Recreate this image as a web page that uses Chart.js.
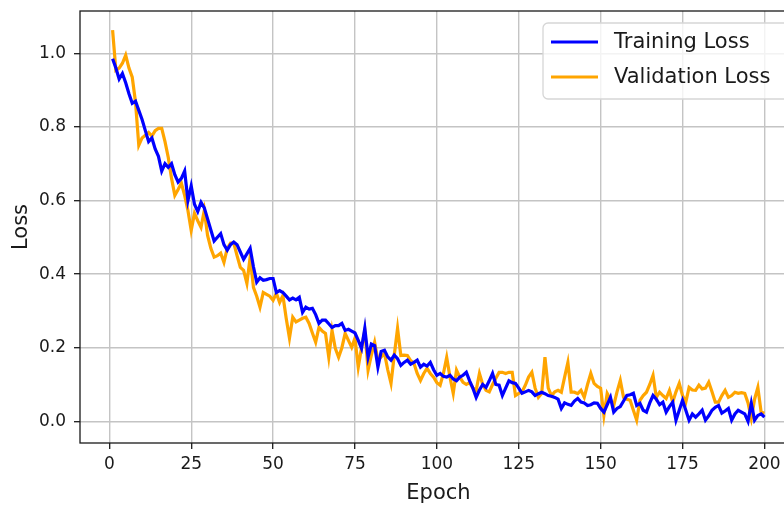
<!DOCTYPE html>
<html>
<head>
<meta charset="utf-8">
<script src="https://cdn.jsdelivr.net/npm/chart.js@4/dist/chart.umd.min.js"></script>
<style>
  html, body { margin: 0; padding: 0; background: #fff; overflow: hidden; }
  canvas { display: block; }
</style>
</head>
<body>
<canvas id="lossChart" width="810" height="508"></canvas>
<script>
// epochs 1..200
const epochs = Array.from({ length: 200 }, (_, i) => i + 1);

const trainLoss = [
  0.985, 0.96, 0.93, 0.945, 0.92, 0.89, 0.864, 0.87, 0.845, 0.82,
  0.79, 0.76, 0.77, 0.74, 0.72, 0.68, 0.70, 0.69, 0.70, 0.67,
  0.65, 0.66, 0.68, 0.60, 0.64, 0.59, 0.57, 0.595, 0.58, 0.55,
  0.52, 0.49, 0.50, 0.51, 0.48, 0.465, 0.48, 0.487, 0.48, 0.46,
  0.44, 0.455, 0.47, 0.42, 0.378, 0.39, 0.383, 0.385, 0.388, 0.388,
  0.35, 0.355, 0.35, 0.34, 0.33, 0.335, 0.33, 0.337, 0.296, 0.31,
  0.305, 0.307, 0.29, 0.266, 0.275, 0.275, 0.265, 0.255, 0.26, 0.26,
  0.266, 0.247, 0.25, 0.245, 0.24, 0.22, 0.198, 0.253, 0.174, 0.21,
  0.206, 0.147, 0.19, 0.193, 0.175, 0.166, 0.18, 0.17, 0.152, 0.16,
  0.166, 0.155, 0.16, 0.166, 0.147, 0.155, 0.15, 0.16, 0.14, 0.125,
  0.13, 0.122, 0.12, 0.125, 0.115, 0.11, 0.12, 0.125, 0.133, 0.11,
  0.09, 0.065, 0.085, 0.10, 0.092, 0.11, 0.13, 0.10, 0.098, 0.07,
  0.09, 0.11, 0.105, 0.103, 0.09, 0.076, 0.08, 0.084, 0.08, 0.07,
  0.075, 0.079, 0.075, 0.07, 0.068, 0.065, 0.06, 0.035, 0.05, 0.046,
  0.043, 0.055, 0.062, 0.052, 0.05, 0.043, 0.045, 0.05, 0.049, 0.035,
  0.025, 0.045, 0.065, 0.025, 0.035, 0.04, 0.055, 0.07, 0.072, 0.076,
  0.043, 0.049, 0.03, 0.025, 0.05, 0.07, 0.06, 0.045, 0.052, 0.025,
  0.04, 0.052, 0.003, 0.03, 0.057, 0.03, 0.003, 0.02, 0.011, 0.02,
  0.03, 0.003, 0.015, 0.03, 0.038, 0.043, 0.022, 0.028, 0.035, 0.003,
  0.02, 0.03, 0.025, 0.02, 0.0, 0.049, 0.003, 0.016, 0.02, 0.011
];

const valLoss = [
  1.063, 0.954, 0.96, 0.973, 0.995, 0.96, 0.935, 0.867, 0.75, 0.77,
  0.777, 0.785, 0.775, 0.79, 0.796, 0.796, 0.76, 0.717, 0.66, 0.614,
  0.63, 0.647, 0.614, 0.573, 0.519, 0.565, 0.545, 0.527, 0.573, 0.505,
  0.47, 0.446, 0.45, 0.457, 0.432, 0.47, 0.484, 0.484, 0.45, 0.418,
  0.41, 0.375, 0.446, 0.364, 0.34, 0.31, 0.35, 0.345, 0.34, 0.329,
  0.348, 0.323, 0.342, 0.28, 0.226, 0.283, 0.27, 0.275, 0.28, 0.283,
  0.266, 0.24, 0.215, 0.255, 0.245, 0.239, 0.174, 0.247, 0.198, 0.174,
  0.20, 0.239, 0.22, 0.201, 0.226, 0.147, 0.20, 0.247, 0.139, 0.18,
  0.215, 0.166, 0.175, 0.185, 0.14, 0.103, 0.18, 0.253, 0.179, 0.18,
  0.179, 0.165, 0.158, 0.13, 0.111, 0.13, 0.144, 0.13, 0.12, 0.105,
  0.098, 0.13, 0.174, 0.12, 0.076, 0.139, 0.12, 0.106, 0.10, 0.105,
  0.09, 0.084, 0.13, 0.10, 0.084, 0.08, 0.10, 0.117, 0.133, 0.133,
  0.13, 0.133, 0.133, 0.07, 0.076, 0.08, 0.098, 0.12, 0.133, 0.09,
  0.065, 0.076, 0.174, 0.09, 0.07, 0.08, 0.084, 0.079, 0.12, 0.16,
  0.079, 0.079, 0.075, 0.084, 0.065, 0.10, 0.13, 0.103, 0.095, 0.09,
  0.016, 0.076, 0.06, 0.043, 0.08, 0.111, 0.065, 0.06, 0.057, 0.03,
  0.003, 0.057, 0.07, 0.079, 0.10, 0.125, 0.065, 0.079, 0.07, 0.062,
  0.084, 0.052, 0.08, 0.103, 0.07, 0.052, 0.092, 0.085, 0.084, 0.098,
  0.088, 0.09, 0.106, 0.08, 0.052, 0.052, 0.07, 0.084, 0.065, 0.07,
  0.079, 0.076, 0.078, 0.076, 0.05, 0.008, 0.06, 0.092, 0.025, 0.022
];

const xTicks = [0, 25, 50, 75, 100, 125, 150, 175, 200];
const yTicks = [0.0, 0.2, 0.4, 0.6, 0.8, 1.0];

const FONT = "'DejaVu Sans', sans-serif";
const INK = '#1a1a1a';
const GRID = '#c4c4c4';

// axes frame + legend like matplotlib
const framePlugin = {
  id: 'frame',
  beforeDatasetsDraw(chart) {
    const { ctx, chartArea: a } = chart;
    ctx.save();
    ctx.strokeStyle = INK;
    ctx.lineWidth = 1.3;
    ctx.strokeRect(a.left, a.top, a.right - a.left, a.bottom - a.top);
    ctx.restore();
  },
  afterDatasetsDraw(chart) {
    const { ctx } = chart;
    const x = 543, y = 23, w = 270, h = 76, r = 5;
    ctx.save();
    ctx.beginPath();
    ctx.roundRect(x, y, w, h, r);
    ctx.fillStyle = 'rgba(255,255,255,0.8)';
    ctx.fill();
    ctx.strokeStyle = '#d6d6d6';
    ctx.lineWidth = 1.3;
    ctx.stroke();
    ctx.font = '21px ' + FONT;
    ctx.textBaseline = 'middle';
    chart.data.datasets.forEach((ds, i) => {
      const cy = 42 + i * 35;
      ctx.strokeStyle = ds.borderColor;
      ctx.lineWidth = 3.2;
      ctx.beginPath();
      ctx.moveTo(551, cy);
      ctx.lineTo(598, cy);
      ctx.stroke();
      ctx.fillStyle = INK;
      ctx.fillText(ds.label, 614, cy + 1);
    });
    ctx.restore();
  }
};

new Chart(document.getElementById('lossChart'), {
  type: 'line',
  data: {
    datasets: [
      {
        label: 'Training Loss',
        data: epochs.map((e, i) => ({ x: e, y: trainLoss[i] })),
        borderColor: '#0000ff',
        borderWidth: 3.2,
        pointRadius: 0,
        tension: 0
      },
      {
        label: 'Validation Loss',
        data: epochs.map((e, i) => ({ x: e, y: valLoss[i] })),
        borderColor: '#ffa500',
        borderWidth: 3.2,
        pointRadius: 0,
        tension: 0
      }
    ]
  },
  options: {
    responsive: false,
    animation: false,
    layout: { padding: { left: 0, top: 11, right: 13, bottom: 0 } },
    plugins: {
      legend: { display: false },
      tooltip: { enabled: false }
    },
    scales: {
      x: {
        type: 'linear',
        min: -8.95,
        max: 209.95,
        afterBuildTicks: s => { s.ticks = xTicks.map(v => ({ value: v })); },
        afterFit: s => { s.height = 65; s.paddingLeft = 0; s.paddingRight = 0; },
        grid: { color: GRID, lineWidth: 1.4, tickColor: INK, tickLength: 6, tickWidth: 1.3 },
        border: { display: false },
        ticks: { color: INK, font: { family: FONT, size: 17 }, padding: 5, maxRotation: 0 },
        title: {
          display: true,
          text: 'Epoch',
          color: INK,
          font: { family: FONT, size: 21 },
          padding: { top: 0, bottom: 2 }
        }
      },
      y: {
        type: 'linear',
        min: -0.059,
        max: 1.115,
        afterBuildTicks: s => { s.ticks = yTicks.map(v => ({ value: v })); },
        afterFit: s => { s.width = 80; s.paddingTop = 0; s.paddingBottom = 0; },
        grid: { color: GRID, lineWidth: 1.4, tickColor: INK, tickLength: 6, tickWidth: 1.3 },
        border: { display: false },
        ticks: {
          color: INK,
          font: { family: FONT, size: 17 },
          padding: 8,
          callback: v => v.toFixed(1)
        },
        title: {
          display: true,
          text: 'Loss',
          color: INK,
          font: { family: FONT, size: 21 },
          padding: { top: 9, bottom: 0 }
        }
      }
    }
  },
  plugins: [framePlugin]
});
</script>
</body>
</html>
